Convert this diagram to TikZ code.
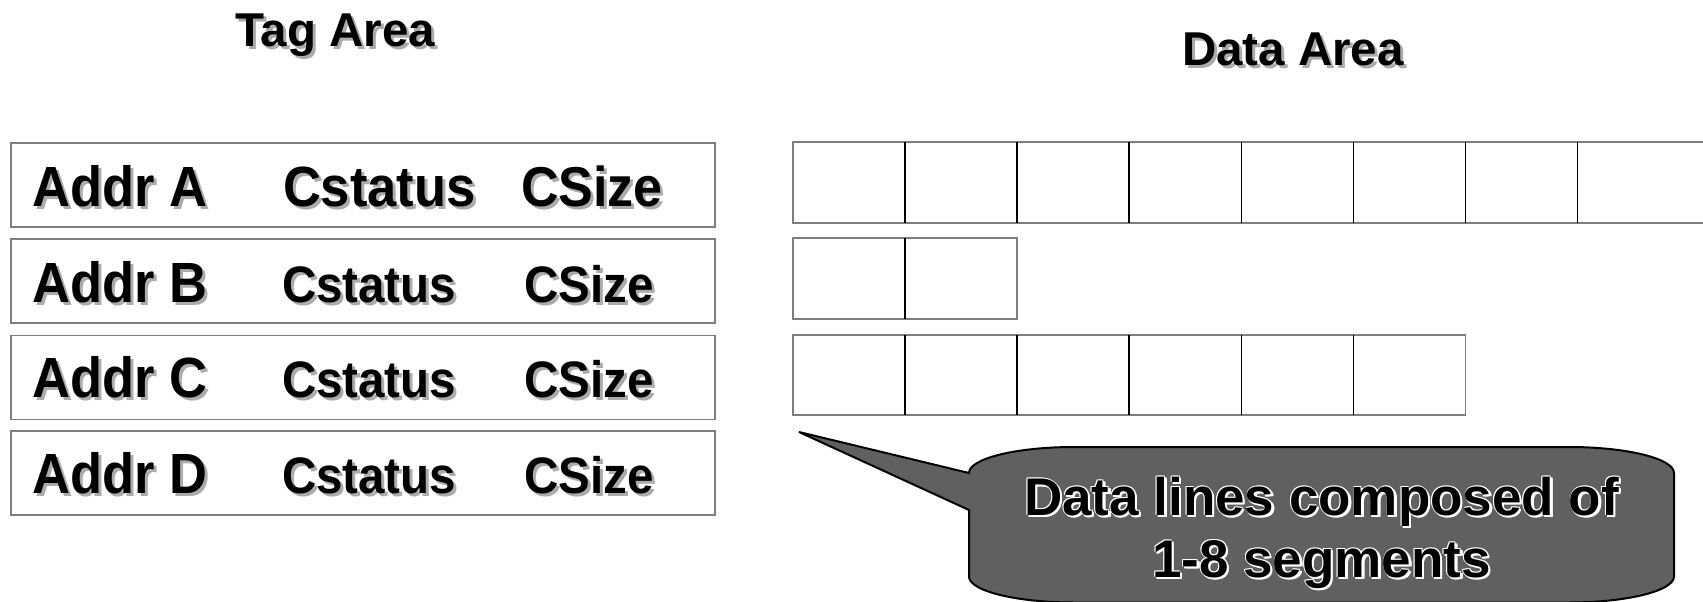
\documentclass[tikz,border=0pt]{standalone}
\usepackage{fontspec}
\setmainfont{Liberation Sans}
\definecolor{framegray}{HTML}{7F7F7F}
\definecolor{shadowgray}{HTML}{ABABAB}
\definecolor{calloutfill}{HTML}{606060}

\tikzset{
  txt/.style={inner sep=0pt, outer sep=0pt, font=\bfseries, text=black},
  tagbox/.style={draw=framegray, line width=1.5pt, inner sep=0pt, anchor=north west,
                 minimum width=704pt, minimum height=84pt},
  cellframe/.style={draw=framegray, line width=1.5pt},
  divider/.style={draw=black, line width=1.5pt},
  callout/.style={draw=black, line width=2pt, fill=calloutfill, line join=miter},
}

% bold label with a soft grey drop shadow
\newcommand\shadowlabel[5]{%
  \node[txt, text=shadowgray, anchor=#3, xshift=3pt, yshift=-3pt] (#1-s) at (#2)
    {\fontsize{#4}{#4}\selectfont #5};
  \node[txt, anchor=#3] (#1) at (#2) {\fontsize{#4}{#4}\selectfont #5};}

% row label, slightly stretched vertically, with drop shadow
\newcommand\rowlabel[4]{%
  \node[txt, text=shadowgray, anchor=base west, xshift=3pt, yshift=-3pt] (#1-s) at (#2)
    {\scalebox{1}[1.08]{\fontsize{#3}{#3}\selectfont #4}};
  \node[txt, anchor=base west] (#1) at (#2)
    {\scalebox{1}[1.08]{\fontsize{#3}{#3}\selectfont #4}};}

% black text with a white outline, used inside the callout
\newcommand\embossline[3]{%
  \foreach \dx/\dy [count=\i] in {1.5/1.5,2.5/2.5,2.5/1,1/2.5,-0.8/-0.8,0.8/-0.8,-0.8/0.8}{
    \node[txt, text=white, anchor=base, xshift=\dx pt, yshift=-\dy pt] (#1-w\i) at (#2)
      {\fontsize{53}{53}\selectfont #3};}
  \node[txt, anchor=base] (#1) at (#2) {\fontsize{53}{53}\selectfont #3};}

\begin{document}
\begin{tikzpicture}[x=1pt, y=-1pt]
\useasboundingbox (0,0) rectangle (1703,602);
\clip (0,0) rectangle (1703,602);

% headings
\shadowlabel{tagtitle}{335,47}{base}{47.5}{Tag Area}
\shadowlabel{datatitle}{1293,66}{base}{47.5}{Data Area}

% tag entries
\foreach \r/\y/\bl/\fs/\zs/\cx/\zx in {A/142/206/52.5/52/283/521,
                                       B/238/302/47.5/47.5/282/524.5,
                                       C/334.5/397.5/47.5/47.5/282/524.5,
                                       D/430/493/47.5/47.5/282/524.5}{
  \node[tagbox] (tag\r) at (10,\y) {};
  \rowlabel{addr\r}{32.6,\bl}{52.5}{Addr \r}
  \rowlabel{cst\r}{\cx,\bl}{\fs}{Cstatus}
  \rowlabel{csz\r}{\zx,\bl}{\zs}{CSize}
}

% data lines: segments of equal width
\def\segw{112.07}
% line of 8 segments
\draw[cellframe] (793,142) rectangle (1800,223);
\foreach \k in {1,...,7}
  \draw[divider] ({793+\segw*\k},142) -- ({793+\segw*\k},223);
% line of 2 segments
\draw[cellframe] (793,238) rectangle ({793+2*\segw},319);
\draw[divider] ({793+\segw},238) -- ({793+\segw},319);
% line of 6 segments
\draw[cellframe] (793,335) rectangle ({793+6*\segw},415);
\foreach \k in {1,...,5}
  \draw[divider] ({793+\segw*\k},335) -- ({793+\segw*\k},415);

% callout with pointer
\coordinate (tip) at (799,432);
\draw[callout] (tip) -- (969,510) -- (969,576.5)
  arc[start angle=180, end angle=90, x radius=105, y radius=26] -- (1569,602.5)
  arc[start angle=90, end angle=0, x radius=105, y radius=26] -- (1674,473)
  arc[start angle=0, end angle=-90, x radius=105, y radius=26] -- (1074,447)
  arc[start angle=-90, end angle=-180, x radius=105, y radius=26] -- cycle;

\embossline{capA}{1321.5,515}{Data lines composed of}
\embossline{capB}{1321.5,577}{1-8 segments}
\end{tikzpicture}
\end{document}
